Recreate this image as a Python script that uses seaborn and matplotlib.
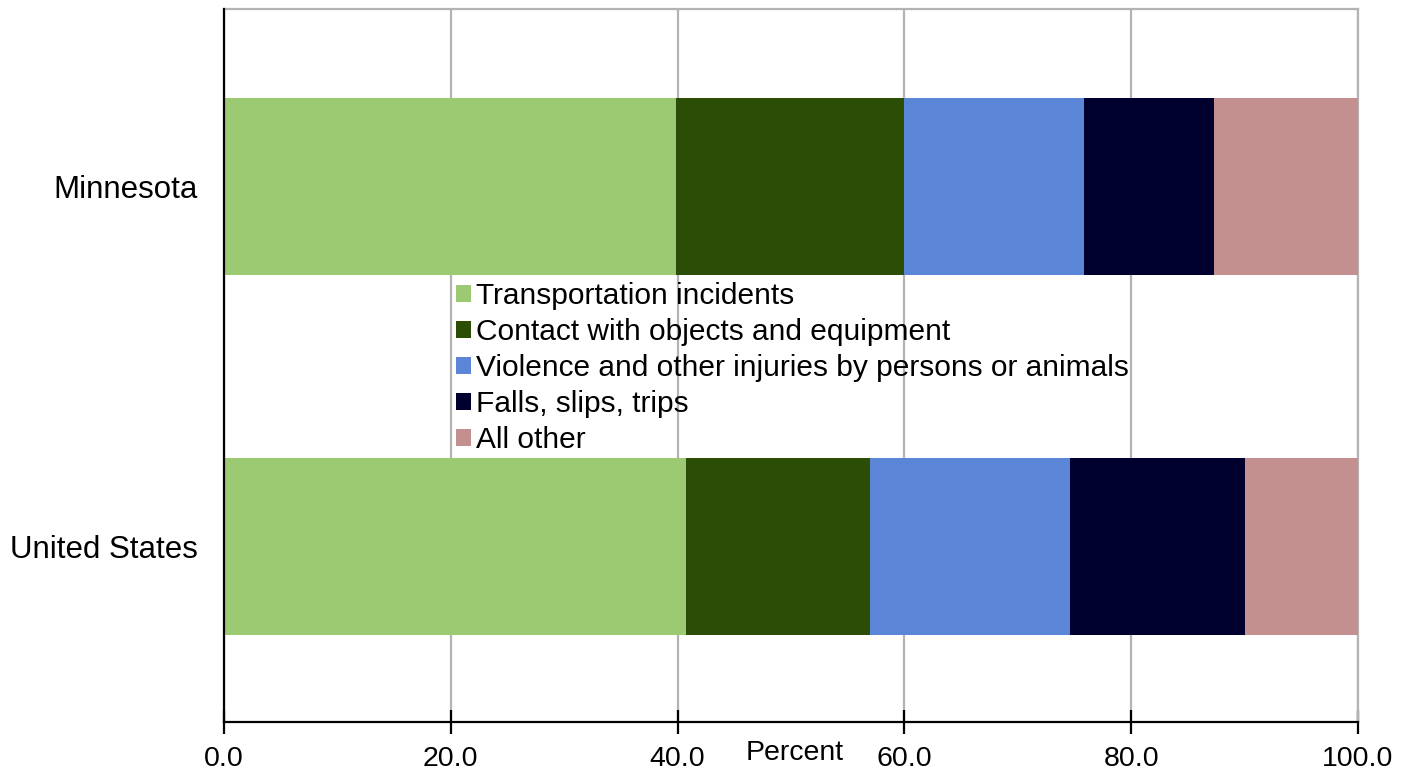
import numpy as np
import pandas as pd
import matplotlib
matplotlib.use("Agg")
import matplotlib.pyplot as plt
import seaborn as sns
from matplotlib.patches import Patch

regions = ["Minnesota", "United States"]
categories = ["Transportation incidents",
              "Contact with objects and equipment",
              "Violence and other injuries by persons or animals",
              "Falls, slips, trips",
              "All other"]
minnesota = [39.9, 20.1, 15.8, 11.5, 12.7]
united_states = [40.7, 16.3, 17.6, 15.4, 10.0]
colors = ["#9BCA72", "#2B4D06", "#5B86D8", "#00002E", "#C4908F"]
xticks = [0, 20, 40, 60, 80, 100]
xtick_labels = ["0.0", "20.0", "40.0", "60.0", "80.0", "100.0"]

sns.set_theme(style="white")
plt.rcParams["font.family"] = ["Liberation Sans", "DejaVu Sans"]
plt.rcParams["text.color"] = "black"
plt.rcParams["axes.labelcolor"] = "black"
plt.rcParams["xtick.labelcolor"] = "black"
plt.rcParams["ytick.labelcolor"] = "black"

vals = np.array([minnesota, united_states])
cum = np.cumsum(vals, axis=1)

fig = plt.figure(figsize=(14.11, 7.73), dpi=100)
ax = fig.add_axes([224 / 1411, 1 - 722 / 773, (1358 - 224) / 1411, (722 - 9) / 773])

# stacked bars: draw cumulative totals from the last category back to the first
for i in range(len(categories) - 1, -1, -1):
    df = pd.DataFrame({"region": regions, "value": cum[:, i]})
    sns.barplot(data=df, x="value", y="region", orient="h", color=colors[i],
                width=0.49, saturation=1, ax=ax, zorder=3, linewidth=0)

ax.set_xlim(0, 100)
ax.set_ylim(1.4875, -0.493)
ax.set_xticks(xticks)
ax.set_xticklabels(xtick_labels)
ax.xaxis.grid(True, color="#b3b3b3", linewidth=1.6, zorder=0)
ax.yaxis.grid(False)
ax.set_axisbelow(True)

for s in ["top", "right"]:
    ax.spines[s].set_color("#b3b3b3")
    ax.spines[s].set_linewidth(1.6)
for s in ["left", "bottom"]:
    ax.spines[s].set_color("black")
    ax.spines[s].set_linewidth(1.6)
    ax.spines[s].set_zorder(5)

ax.tick_params(axis="x", direction="inout", length=17, width=1.6, color="black",
               labelsize=20.5, pad=9, bottom=True, labelcolor="black")
ax.tick_params(axis="y", length=0, labelsize=22.5, pad=19, labelcolor="black")
ax.set_ylabel("")
ax.set_xlabel("Percent", fontsize=20.5, color="black")
ax.xaxis.set_label_coords(0.503, -0.025)
ax.xaxis.label.set_va("top")

handles = [Patch(facecolor=c, edgecolor="none") for c in colors]
leg = ax.legend(handles, categories, loc="upper left", bbox_to_anchor=(0.205, 0.617),
                frameon=False, fontsize=21.5, handlelength=0.5, handleheight=0.5,
                handletextpad=0.15, labelspacing=0.27, borderpad=0, borderaxespad=0,
                labelcolor="black")

fig.savefig("out.png", dpi=100)
